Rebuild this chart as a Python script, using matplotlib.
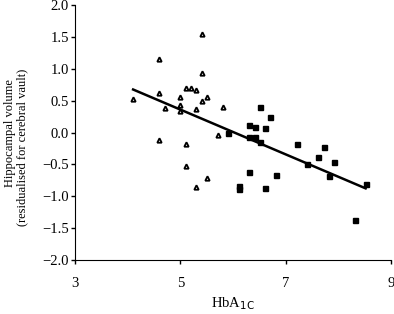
import numpy as np
import matplotlib
matplotlib.use('Agg')
import matplotlib.pyplot as plt

# Triangles (group 1)
tri_x = [5.41, 4.60, 5.41, 5.10, 5.20, 5.30, 4.60, 4.10, 5.00, 5.50, 5.41,
         5.00, 4.70, 5.30, 5.81, 5.00, 5.72, 4.60, 5.10, 5.10, 5.50, 5.30]
tri_y = [1.55, 1.15, 0.93, 0.70, 0.70, 0.66, 0.62, 0.53, 0.55, 0.55, 0.50,
         0.43, 0.38, 0.37, 0.40, 0.33, -0.04, -0.12, -0.18, -0.53, -0.71, -0.85]

# Squares (group 2)
sq_x = [6.51, 6.71, 6.31, 6.42, 6.61, 5.91, 6.31, 6.42, 6.51, 7.21, 7.72,
        7.61, 7.91, 7.41, 7.82, 6.31, 6.82, 6.11, 6.11, 6.61, 8.52, 8.31]
sq_y = [0.40, 0.25, 0.11, 0.08, 0.075, 0.0, -0.065, -0.065, -0.15, -0.18, -0.22,
        -0.385, -0.47, -0.50, -0.69, -0.625, -0.67, -0.84, -0.89, -0.87, -0.81, -1.38]

plt.rcParams['font.family'] = ['Liberation Serif', 'DejaVu Serif']

fig = plt.figure(figsize=(3.94, 3.14), dpi=100)
ax = fig.add_axes([0.191, 0.172, 0.801, 0.812])

ax.plot(tri_x, tri_y, linestyle='none', marker='^', markersize=3.2,
        markerfacecolor='white', markeredgecolor='black', markeredgewidth=1.3)
ax.plot(sq_x, sq_y, linestyle='none', marker='s', markersize=3.6,
        markerfacecolor='black', markeredgecolor='black')

# Regression line over all points
all_x = np.array(tri_x + sq_x)
all_y = np.array(tri_y + sq_y)
slope, intercept = np.polyfit(all_x, all_y, 1)
lx = np.array([all_x.min(), all_x.max()])
ax.plot(lx, intercept + slope * lx, color='black', linewidth=1.8)

ax.set_xlim(3, 9)
ax.set_ylim(-2, 2)
ax.set_xticks([3, 5, 7, 9])
ax.set_yticks(np.arange(-2, 2.01, 0.5))
ax.set_yticklabels([f'{v:.1f}'.replace('-', '\u2212') for v in np.arange(-2, 2.01, 0.5)])
ax.tick_params(direction='out', length=3, width=1, labelsize=10.5, color='black')
ax.tick_params(axis='x', pad=9)
ax.tick_params(axis='y', pad=1.5)
ax.spines['top'].set_visible(False)
ax.spines['right'].set_visible(False)

ax.set_xlabel('HbA$_{\\mathrm{1C}}$', fontsize=10.5)
ax.xaxis.set_label_coords(0.5, -0.14)

# y label: two lines, placed separately
fig.text(10 / 394, 1 - 133 / 314, 'Hippocampal volume', rotation=90,
         ha='center', va='center', fontsize=9)
fig.text(22 / 394, 1 - 147 / 314, '(residualised for cerebral vault)', rotation=90,
         ha='center', va='center', fontsize=9)

fig.savefig('out.png', dpi=100)
